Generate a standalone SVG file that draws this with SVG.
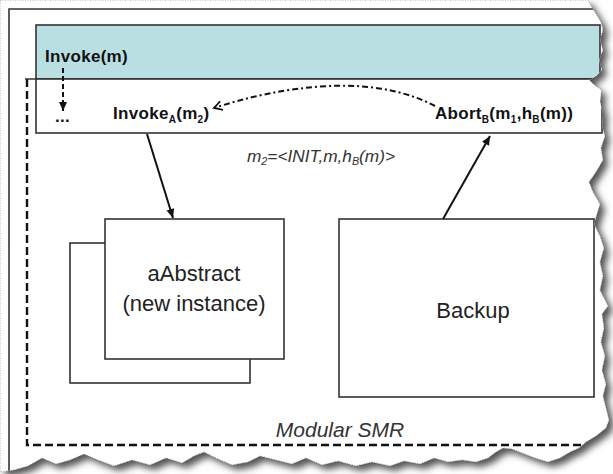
<svg xmlns="http://www.w3.org/2000/svg" width="613" height="474" viewBox="0 0 613 474">
<style>
  .ln{stroke:#333;stroke-width:1.6;fill:none}
  .box{fill:#fff;stroke:#333;stroke-width:1.6}
  .band{fill:#b9dfe3;stroke:#333;stroke-width:1.6}
  .bold{font-family:"Liberation Sans",Arial,sans-serif;font-weight:bold;font-size:17px;fill:#111;letter-spacing:0.3px}
  .sub{font-size:10px}
  .lbl{font-family:"Liberation Sans",Arial,sans-serif;font-size:22px;fill:#222;text-anchor:middle}
  .ital{font-family:"Liberation Sans",Arial,sans-serif;font-style:italic;fill:#333}
  .arrow{stroke:#111;stroke-width:2;fill:none}
</style>
<defs>
  <marker id="head" viewBox="-10 -6 12 12" refX="0" refY="0" markerWidth="12" markerHeight="12" markerUnits="userSpaceOnUse" orient="auto">
    <path d="M-9,-4 L0,0 L-9,4 Z" fill="#111"/>
  </marker>
  <marker id="open" viewBox="-10 -6 12 12" refX="0" refY="0" markerWidth="12" markerHeight="12" markerUnits="userSpaceOnUse" orient="auto">
    <path d="M-8,-4.5 L0,0 L-8,4.5" fill="none" stroke="#111" stroke-width="1.8"/>
  </marker>
  <filter id="shadow" x="-5%" y="-5%" width="115%" height="115%">
    <feGaussianBlur in="SourceAlpha" stdDeviation="3.5"/>
    <feOffset dx="5" dy="5" result="b"/>
    <feFlood flood-color="#4a4a4a" flood-opacity="0.95"/>
    <feComposite in2="b" operator="in"/>
    <feMerge><feMergeNode/><feMergeNode in="SourceGraphic"/></feMerge>
  </filter>
  <path id="paperShape" d="M0,0 H588 L591,6 L596,14 L601,22 L603,30 L600,40 L603,50 L599,60 L602,70 L596,76 L589,80 L594,85 L601,90 L600,102 L603,114 L602,126 L605,136 L601,148 L603,160 L596,172 L589,182 L593,192 L600,204 L597,214 L594,224 L600,236 L604,248 L600,262 L603,276 L600,290 L605,300 L608,306 L602,314 L604,328 L601,342 L605,356 L602,370 L606,384 L603,396 L606,408 L609,420 L606,428 L596,436 L586,442 L579,448 L570,452 L560,458 L548,462 L535,458 L522,453 L512,449 L503,448 L496,452 L488,458 L476,462 L462,460 L448,462 L434,458 L420,464 L404,461 L390,466 L372,462 L356,466 L338,461 L322,465 L306,458 L292,464 L276,460 L260,456 L248,462 L232,465 L218,459 L204,452 L194,456 L182,463 L166,458 L150,465 L132,460 L114,466 L98,460 L84,454 L70,460 L56,464 L42,458 L28,466 L14,470 L0,472 Z"/>
  <clipPath id="paperClip"><use href="#paperShape"/></clipPath>
</defs>
<rect width="613" height="474" fill="#fff"/>
<g id="paper">
  <use href="#paperShape" fill="#fff" filter="url(#shadow)"/>
  <use href="#paperShape" fill="none" stroke="#777" stroke-width="0.8" stroke-dasharray="1 1.5"/>
</g>
<g clip-path="url(#paperClip)">
  <g id="frame">
    <path class="ln" d="M9,472 V9 H640"/>
  </g>
  <g id="invoke-band">
    <rect class="band" x="36" y="25" width="564" height="54"/>
    <text class="bold" x="45" y="62">Invoke(m)</text>
  </g>
  <g id="modular-smr">
    <path d="M27,79 V445 H600" fill="none" stroke="#111" stroke-width="2.4" stroke-dasharray="8 4"/>
    <text class="ital" x="340" y="437" font-size="21" text-anchor="middle" fill="#222">Modular SMR</text>
  </g>
  <g id="call-band">
    <path class="ln" d="M25,79 H600"/>
    <rect class="box" x="36" y="79" width="566" height="54"/>
    <text class="bold" x="55" y="122">...</text>
    <text class="bold" x="113" y="119">Invoke<tspan class="sub" dy="4">A</tspan><tspan dy="-4">(m</tspan><tspan class="sub" dy="4">2</tspan><tspan dy="-4">)</tspan></text>
    <text class="bold" x="435" y="119">Abort<tspan class="sub" dy="4">B</tspan><tspan dy="-4">(m</tspan><tspan class="sub" dy="4">1</tspan><tspan dy="-4">,h</tspan><tspan class="sub" dy="4">B</tspan><tspan dy="-4">(m))</tspan></text>
  </g>
  <g id="m2-label">
    <text class="ital" x="247" y="162" font-size="16" textLength="148" lengthAdjust="spacingAndGlyphs">m<tspan font-size="10" dy="3">2</tspan><tspan dy="-3">=&lt;INIT,m,h</tspan><tspan font-size="10" dy="3">B</tspan><tspan dy="-3">(m)&gt;</tspan></text>
  </g>
  <g id="aAbstract-old">
    <rect class="box" x="70" y="243" width="180" height="140"/>
  </g>
  <g id="aAbstract">
    <rect class="box" x="105" y="219" width="179" height="140"/>
    <text class="lbl" x="194" y="281">aAbstract</text>
    <text class="lbl" x="194" y="311">(new instance)</text>
  </g>
  <g id="backup">
    <rect class="box" x="339" y="219" width="255" height="178"/>
    <text class="lbl" x="473" y="318">Backup</text>
  </g>
  <g id="connectors">
    <line class="arrow" x1="63" y1="68" x2="63" y2="111" stroke-dasharray="5 3" marker-end="url(#head)"/>
    <path class="arrow" d="M435,106 C405,90 365,84 330,86 C285,88 245,98 214,108" stroke-width="1.8" stroke-dasharray="6 3 2 3" marker-end="url(#open)"/>
    <line class="arrow" x1="147" y1="134" x2="173" y2="218" marker-end="url(#head)"/>
    <line class="arrow" x1="443" y1="219" x2="490" y2="136" marker-end="url(#head)"/>
  </g>
</g>
</svg>
